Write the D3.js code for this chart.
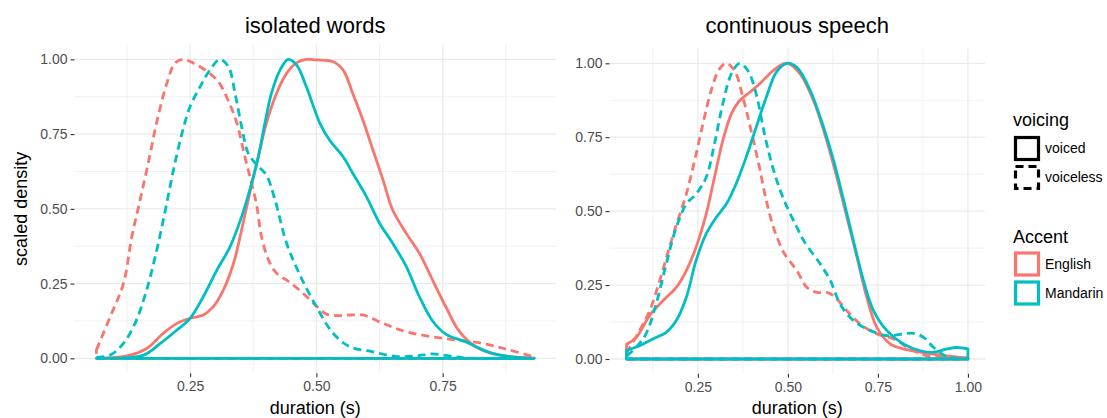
<!DOCTYPE html>
<html>
<head>
<meta charset="utf-8">
<script src="https://cdn.jsdelivr.net/npm/d3@7"></script>
<style>
  body { margin: 0; background: #fff; }
  svg { display: block; font-family: "Liberation Sans", Arial, sans-serif; }
</style>
</head>
<body>
<script>
// scaled density curves: [duration (s), scaled density]
var isoEnglishVoiced = [[0.0645,0.0],[0.125,0.008],[0.164,0.033],[0.197,0.084],[0.224,0.117],[0.25,0.134],[0.276,0.145],[0.296,0.173],[0.316,0.229],[0.336,0.318],[0.352,0.43],[0.368,0.552],[0.385,0.674],[0.401,0.786],[0.421,0.886],[0.441,0.953],[0.461,0.989],[0.48,1.0],[0.5,0.998],[0.533,0.992],[0.553,0.964],[0.572,0.886],[0.592,0.797],[0.612,0.697],[0.632,0.596],[0.651,0.496],[0.678,0.418],[0.704,0.351],[0.73,0.262],[0.757,0.17],[0.783,0.09],[0.816,0.038],[0.862,0.011],[0.931,0.001]];
var isoEnglishVoiceless = [[0.0645,0.028],[0.092,0.14],[0.118,0.25],[0.135,0.41],[0.151,0.53],[0.168,0.66],[0.184,0.79],[0.204,0.92],[0.22,0.987],[0.236,1.0],[0.257,0.987],[0.283,0.96],[0.306,0.925],[0.326,0.86],[0.342,0.79],[0.359,0.67],[0.372,0.585],[0.382,0.51],[0.391,0.41],[0.405,0.33],[0.421,0.285],[0.447,0.255],[0.474,0.217],[0.5,0.175],[0.52,0.148],[0.545,0.143],[0.566,0.145],[0.592,0.145],[0.632,0.117],[0.678,0.089],[0.75,0.067],[0.829,0.05],[0.882,0.028],[0.931,0.005]];
var isoMandarinVoiced = [[0.0645,0.0],[0.158,0.011],[0.191,0.05],[0.224,0.095],[0.25,0.134],[0.276,0.206],[0.303,0.295],[0.329,0.373],[0.352,0.474],[0.368,0.563],[0.385,0.674],[0.398,0.786],[0.411,0.886],[0.428,0.964],[0.444,1.0],[0.461,0.981],[0.48,0.909],[0.507,0.786],[0.526,0.73],[0.553,0.674],[0.572,0.619],[0.599,0.541],[0.625,0.452],[0.651,0.385],[0.678,0.307],[0.704,0.206],[0.73,0.125],[0.757,0.08],[0.796,0.055],[0.842,0.02],[0.882,0.006],[0.931,0.0]];
var isoMandarinVoiceless = [[0.0645,0.003],[0.092,0.011],[0.118,0.05],[0.141,0.117],[0.164,0.229],[0.184,0.362],[0.201,0.496],[0.217,0.63],[0.234,0.753],[0.25,0.842],[0.27,0.909],[0.289,0.964],[0.309,1.0],[0.326,0.975],[0.339,0.886],[0.352,0.775],[0.365,0.686],[0.382,0.647],[0.401,0.613],[0.418,0.53],[0.441,0.385],[0.467,0.28],[0.5,0.173],[0.533,0.084],[0.566,0.039],[0.612,0.022],[0.658,0.006],[0.697,0.008],[0.73,0.015],[0.763,0.008],[0.796,0.001],[0.931,0.0]];

var conEnglishVoiced = [[0.052,0.05],[0.079,0.073],[0.116,0.147],[0.153,0.197],[0.19,0.242],[0.218,0.299],[0.245,0.378],[0.273,0.49],[0.296,0.614],[0.319,0.738],[0.343,0.829],[0.366,0.874],[0.394,0.902],[0.421,0.93],[0.449,0.964],[0.477,0.992],[0.5,1.0],[0.534,0.964],[0.571,0.874],[0.608,0.738],[0.636,0.614],[0.664,0.479],[0.692,0.344],[0.719,0.209],[0.747,0.107],[0.784,0.051],[0.821,0.034],[0.868,0.023],[0.914,0.015],[0.96,0.008],[1.0,0.003]];
var conEnglishVoiceless = [[0.052,0.02],[0.088,0.096],[0.116,0.163],[0.144,0.265],[0.171,0.378],[0.194,0.468],[0.218,0.558],[0.241,0.671],[0.264,0.795],[0.287,0.908],[0.31,0.981],[0.329,1.0],[0.352,0.975],[0.375,0.885],[0.398,0.772],[0.421,0.648],[0.44,0.536],[0.463,0.434],[0.491,0.355],[0.525,0.299],[0.553,0.242],[0.581,0.225],[0.608,0.225],[0.631,0.209],[0.664,0.163],[0.701,0.118],[0.747,0.085],[0.794,0.068],[0.84,0.034],[0.886,0.011],[0.942,0.006],[1.0,0.003]];
var conMandarinVoiced = [[0.052,0.03],[0.088,0.045],[0.125,0.068],[0.162,0.09],[0.19,0.13],[0.218,0.209],[0.245,0.333],[0.273,0.423],[0.301,0.479],[0.329,0.524],[0.356,0.592],[0.384,0.682],[0.412,0.784],[0.44,0.885],[0.468,0.97],[0.497,1.0],[0.525,0.986],[0.562,0.908],[0.599,0.784],[0.627,0.671],[0.655,0.536],[0.682,0.4],[0.71,0.265],[0.738,0.163],[0.775,0.096],[0.821,0.051],[0.868,0.028],[0.905,0.023],[0.942,0.034],[0.969,0.039],[1.0,0.034]];
var conMandarinVoiceless = [[0.052,0.01],[0.079,0.04],[0.106,0.085],[0.134,0.186],[0.162,0.321],[0.19,0.445],[0.218,0.524],[0.245,0.558],[0.273,0.614],[0.296,0.727],[0.319,0.862],[0.343,0.964],[0.366,1.0],[0.389,0.975],[0.412,0.896],[0.435,0.761],[0.458,0.648],[0.486,0.547],[0.523,0.45],[0.544,0.4],[0.59,0.321],[0.618,0.265],[0.645,0.186],[0.682,0.13],[0.729,0.096],[0.775,0.079],[0.821,0.085],[0.849,0.087],[0.877,0.073],[0.905,0.039],[0.942,0.008],[1.0,0.0]];

var accents = ['English', 'Mandarin'];
var accentColors = ['#F8766D', '#00BFC4'];
var voicings = ['voiced', 'voiceless'];
var voicingDash = ['none', '8,5'];

var yTicks = [0, 0.25, 0.5, 0.75, 1];
var yMinor = [0.125, 0.375, 0.625, 0.875];
var isoXTicks = [0.25, 0.5, 0.75];
var conXTicks = [0.25, 0.5, 0.75, 1];
var xMinor = [0.125, 0.375, 0.625, 0.875];

var panels = [
	{ title: 'isolated words', left: 74.5, right: 556, top: 44.4, bottom: 373.3, xTicks: isoXTicks,
	  series: [isoEnglishVoiced, isoEnglishVoiceless, isoMandarinVoiced, isoMandarinVoiceless] },
	{ title: 'continuous speech', left: 609.5, right: 985, top: 48.5, bottom: 373.8, xTicks: conXTicks,
	  series: [conEnglishVoiced, conEnglishVoiceless, conMandarinVoiced, conMandarinVoiceless] }
];

var svg = d3.select('body')
	.append('svg')
	.attr('width', 1107)
	.attr('height', 418);

panels.forEach(function (p, pi) {
	var all = d3.merge(p.series);
	var ext = d3.extent(all, function (d) { return d[0]; });
	var pad = (ext[1] - ext[0]) * 0.05;
	var x = d3.scaleLinear().domain([ext[0] - pad, ext[1] + pad]).range([p.left, p.right]);
	var y = d3.scaleLinear().domain([-0.05, 1.05]).range([p.bottom, p.top]);
	var g = svg.append('g');

	// grid
	g.selectAll('.hminor').data(yMinor).enter().append('line')
		.attr('x1', p.left).attr('x2', p.right)
		.attr('y1', function (d) { return y(d); }).attr('y2', function (d) { return y(d); })
		.style('stroke', '#EBEBEB').style('stroke-width', 0.7);
	g.selectAll('.vminor').data(xMinor).enter().append('line')
		.attr('y1', p.top).attr('y2', p.bottom)
		.attr('x1', function (d) { return x(d); }).attr('x2', function (d) { return x(d); })
		.style('stroke', '#EBEBEB').style('stroke-width', 0.7);
	g.selectAll('.hmajor').data(yTicks).enter().append('line')
		.attr('x1', p.left).attr('x2', p.right)
		.attr('y1', function (d) { return y(d); }).attr('y2', function (d) { return y(d); })
		.style('stroke', '#EBEBEB').style('stroke-width', 1.3);
	g.selectAll('.vmajor').data(p.xTicks).enter().append('line')
		.attr('y1', p.top).attr('y2', p.bottom)
		.attr('x1', function (d) { return x(d); }).attr('x2', function (d) { return x(d); })
		.style('stroke', '#EBEBEB').style('stroke-width', 1.3);

	// axes
	var yAxis = g.append('g')
		.attr('transform', 'translate(' + p.left + ',0)')
		.call(d3.axisLeft(y).tickValues(yTicks).tickFormat(d3.format('.2f')).tickSize(4).tickPadding(3));
	var xAxis = g.append('g')
		.attr('transform', 'translate(0,' + p.bottom + ')')
		.call(d3.axisBottom(x).tickValues(p.xTicks).tickFormat(d3.format('.2f')).tickSize(4).tickPadding(4));
	[yAxis, xAxis].forEach(function (a) {
		a.select('.domain').remove();
		a.selectAll('.tick line').style('stroke', '#333333').style('stroke-width', 1.1);
		a.selectAll('.tick text').style('fill', '#4D4D4D').style('font-size', '14px')
			.style('font-family', '"Liberation Sans", Arial, sans-serif');
	});

	// density outlines (closed polygons, as geom_density draws them)
	var line = d3.line()
		.x(function (d) { return x(d[0]); })
		.y(function (d) { return y(d[1]); })
		.curve(d3.curveCatmullRom.alpha(0.5));
	p.series.forEach(function (s, si) {
		var a = Math.floor(si / 2), v = si % 2;
		var path = line(s) + 'L' + x(s[s.length - 1][0]) + ',' + y(0) + 'L' + x(s[0][0]) + ',' + y(0) + 'Z';
		g.append('path')
			.attr('d', path)
			.style('fill', 'none')
			.style('stroke', accentColors[a])
			.style('stroke-width', 2.8)
			.style('stroke-linejoin', 'round')
			.style('stroke-dasharray', voicingDash[v]);
	});

	g.append('text')
		.attr('x', (p.left + p.right) / 2).attr('y', 33)
		.attr('text-anchor', 'middle')
		.style('font-size', '22px').style('fill', '#000')
		.text(p.title);
	g.append('text')
		.attr('x', (p.left + p.right) / 2).attr('y', 414)
		.attr('text-anchor', 'middle')
		.style('font-size', '18px').style('fill', '#000')
		.text('duration (s)');
	if (pi === 0) {
		g.append('text')
			.attr('transform', 'translate(27,' + ((p.top + p.bottom) / 2) + ') rotate(-90)')
			.attr('text-anchor', 'middle')
			.style('font-size', '18px').style('fill', '#000')
			.text('scaled density');
	}
});

// legends
var legend = svg.append('g').attr('transform', 'translate(1013,0)');
legend.append('text').attr('x', 0).attr('y', 126).style('font-size', '18px').text('voicing');
voicings.forEach(function (v, i) {
	var top = 137.5 + i * 29;
	legend.append('rect')
		.attr('x', 2.5).attr('y', top).attr('width', 23).attr('height', 22)
		.style('fill', 'none').style('stroke', '#000').style('stroke-width', 3.2)
		.style('stroke-dasharray', voicingDash[i]);
	legend.append('text').attr('x', 32).attr('y', top + 11).attr('dy', '0.35em')
		.style('font-size', '14px').text(v);
});
legend.append('text').attr('x', 0).attr('y', 242.5).style('font-size', '18px').text('Accent');
accents.forEach(function (a, i) {
	var top = 253 + i * 29;
	legend.append('rect')
		.attr('x', 2.5).attr('y', top).attr('width', 23).attr('height', 22)
		.style('fill', 'none').style('stroke', accentColors[i]).style('stroke-width', 3.2);
	legend.append('text').attr('x', 32).attr('y', top + 11).attr('dy', '0.35em')
		.style('font-size', '14px').text(a);
});
</script>
</body>
</html>
